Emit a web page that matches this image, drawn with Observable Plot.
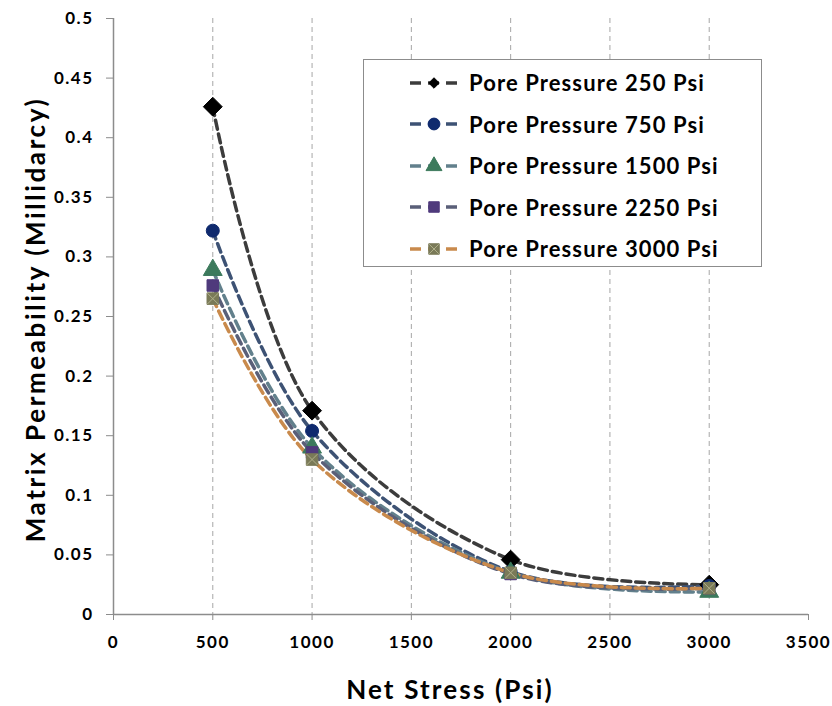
<!DOCTYPE html>
<html>
<head>
<meta charset="utf-8">
<script src="https://cdn.jsdelivr.net/npm/d3@7"></script>
<script src="https://cdn.jsdelivr.net/npm/@observablehq/plot@0.6"></script>
<style>
  html, body { margin: 0; padding: 0; background: #fff; }
  #wrap { position: relative; width: 832px; height: 706px; }
  #chart svg { font-family: Lato, "Open Sans", sans-serif; }
  #chart g[aria-label="x-axis tick label"] text,
  #chart g[aria-label="y-axis tick label"] text { font-size: 17px; font-weight: bold; fill: #000; letter-spacing: 1.5px; }
  #legend {
    position: absolute; left: 363px; top: 59px; width: 399px; height: 208px;
    border: 1px solid #8c8c8c; background: #fff; box-sizing: border-box;
    font-family: Lato, "Open Sans", sans-serif; font-weight: bold; font-size: 22px; color: #000;
    letter-spacing: 1.1px; padding-top: 2px;
  }
  .row { display: flex; align-items: center; height: 41.5px; padding-left: 44px; }
  .row svg { width: 52px; height: 20px; margin-right: 9px; flex: none; }
</style>
</head>
<body>
<div id="wrap">
  <div id="chart"></div>
  <div id="legend"></div>
</div>
<script>
// Net stress (Psi) at which matrix permeability was measured
const netStress = [500, 1000, 2000, 3000];

// Matrix permeability (millidarcy) for each pore pressure
const pp250  = [0.426, 0.171, 0.046, 0.025];
const pp750  = [0.322, 0.154, 0.036, 0.024];
const pp1500 = [0.289, 0.140, 0.035, 0.019];
const pp2250 = [0.276, 0.136, 0.034, 0.022];
const pp3000 = [0.265, 0.130, 0.035, 0.022];

const seriesNames = [
  "Pore Pressure 250 Psi",
  "Pore Pressure 750 Psi",
  "Pore Pressure 1500 Psi",
  "Pore Pressure 2250 Psi",
  "Pore Pressure 3000 Psi"
];
const seriesValues = [pp250, pp750, pp1500, pp2250, pp3000];

const xTicks = [0, 500, 1000, 1500, 2000, 2500, 3000, 3500];
const yTicks = [0, 0.05, 0.1, 0.15, 0.2, 0.25, 0.3, 0.35, 0.4, 0.45, 0.5];
const gridX = [500, 1000, 1500, 2000, 2500, 3000];
const xTitle = "Net Stress (Psi)";
const yTitle = "Matrix Permeability (Millidarcy)";

// Line and marker styling per series
const styles = [
  {line: "#3c3c3c", fill: "#000000", symbol: "diamond2", r: 8.5},
  {line: "#3d5274", fill: "#0f2a6e", symbol: "circle", r: 6.5},
  {line: "#62808c", fill: "#3c7a5c", symbol: "triangle", r: 7},
  {line: "#5a5f78", fill: "#4f3a7c", symbol: "square", r: 6.5},
  {line: "#c98a4c", fill: "#7a7a58", symbol: "square", r: 6.5}
];

const rows = [];
seriesNames.forEach((name, i) => {
  netStress.forEach((x, j) => rows.push({series: name, idx: i, stress: x, perm: seriesValues[i][j]}));
});

const titleStyle = {fontSize: 26, fontWeight: "bold", fill: "#000", lineAnchor: "middle", textAnchor: "middle"};

const marks = [
  Plot.ruleX(gridX, {stroke: "#a6a6a6", strokeWidth: 1, strokeDasharray: "5,4"}),
  Plot.ruleY([0], {stroke: "#8c8c8c", strokeWidth: 1.5}),
  Plot.ruleX([0], {stroke: "#8c8c8c", strokeWidth: 1.5}),
  Plot.axisX({ticks: xTicks, tickFormat: d => String(d), tickSize: 6, stroke: "#8c8c8c",
    tickPadding: 15, label: null}),
  Plot.axisY({ticks: yTicks, tickFormat: d => String(d), tickSize: 7, stroke: "#8c8c8c",
    tickPadding: 13, label: null}),
  Plot.text([xTitle], {...titleStyle, text: d => d, frameAnchor: "bottom", dy: 76, dx: -11}),
  Plot.text([yTitle], {...titleStyle, text: d => d, frameAnchor: "left", rotate: -90, dx: -77, dy: 3})
];

seriesNames.forEach((name, i) => {
  const st = styles[i];
  marks.push(Plot.line(rows.filter(d => d.idx === i), {
    x: "stress", y: "perm", stroke: st.line, strokeWidth: 3.5,
    strokeDasharray: "9,5", curve: "catmull-rom"
  }));
});

seriesNames.forEach((name, i) => {
  const st = styles[i];
  const data = rows.filter(d => d.idx === i);
  marks.push(Plot.dot(data, {x: "stress", y: "perm", symbol: () => st.symbol, r: st.r,
    fill: st.fill, stroke: st.fill, strokeWidth: 1}));
  if (i === 4) {
    marks.push(Plot.dot(data, {x: "stress", y: "perm", symbol: () => "times", r: 5,
      stroke: "#b0b08a", strokeWidth: 1}));
  }
});

const chart = Plot.plot({
  width: 832,
  height: 706,
  marginLeft: 113,
  marginRight: 24,
  marginTop: 18,
  marginBottom: 92,
  x: {domain: [0, 3500]},
  y: {domain: [0, 0.5]},
  symbol: {type: "identity"},
  marks
});
document.getElementById("chart").append(chart);

// Axis titles are drawn with wider letter spacing
d3.select(chart).selectAll("text").filter(function () {
  const t = this.textContent;
  return t === xTitle || t === yTitle;
}).style("letter-spacing", function () {
  return this.textContent === xTitle ? "2.15px" : "2.6px";
});

// Legend box drawn inside the plotting area
const legend = d3.select("#legend");
seriesNames.forEach((name, i) => {
  const st = styles[i];
  const row = legend.append("div").attr("class", "row");
  const svg = row.append("svg").attr("viewBox", "0 0 52 20");
  svg.append("line").attr("x1", 2).attr("x2", 50).attr("y1", 10).attr("y2", 10)
    .attr("stroke", st.line).attr("stroke-width", 3.5).attr("stroke-dasharray", "11,7");
  const symMap = {diamond2: d3.symbolDiamond2, circle: d3.symbolCircle, triangle: d3.symbolTriangle, square: d3.symbolSquare};
  const size = i === 0 ? 70 : 110;
  svg.append("path").attr("transform", "translate(26,10)")
    .attr("d", d3.symbol(symMap[st.symbol], size)())
    .attr("fill", st.fill).attr("stroke", st.fill);
  if (i === 4) {
    svg.append("path").attr("transform", "translate(26,10)")
      .attr("d", d3.symbol(d3.symbolTimes, 60)())
      .attr("fill", "none").attr("stroke", "#b0b08a").attr("stroke-width", 1);
  }
  row.append("span").text(name);
});
</script>
</body>
</html>
